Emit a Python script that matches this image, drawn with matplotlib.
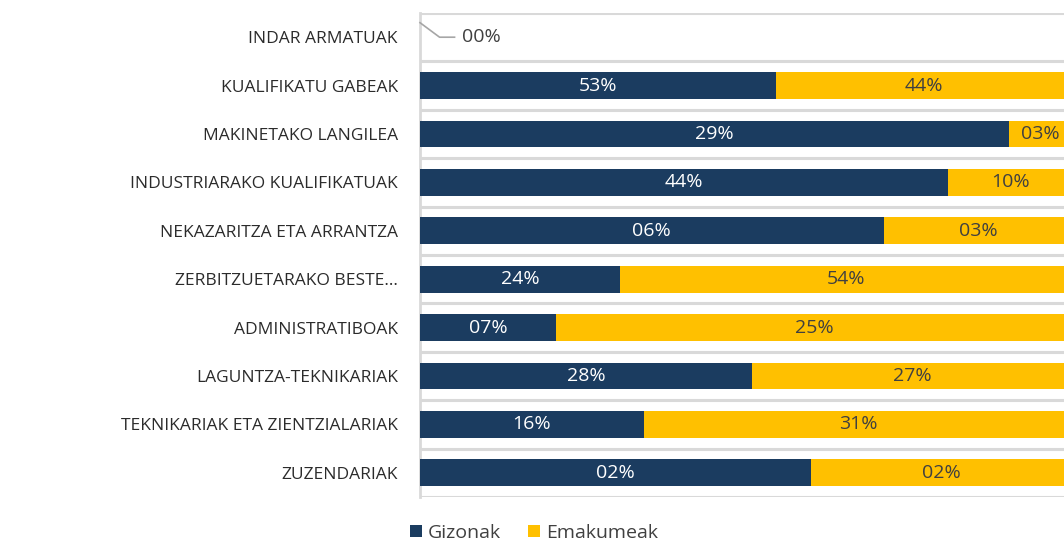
import numpy as np
import matplotlib
matplotlib.use("Agg")
import matplotlib.pyplot as plt

# Categories, top to bottom as in the chart
categories = [
    "INDAR ARMATUAK",
    "KUALIFIKATU GABEAK",
    "MAKINETAKO LANGILEA",
    "INDUSTRIARAKO KUALIFIKATUAK",
    "NEKAZARITZA ETA ARRANTZA",
    "ZERBITZUETARAKO BESTE\u2026",
    "ADMINISTRATIBOAK",
    "LAGUNTZA-TEKNIKARIAK",
    "TEKNIKARIAK ETA ZIENTZIALARIAK",
    "ZUZENDARIAK",
]
gizonak = [0.0, 53.2, 29.1, 44.0, 6.4, 24.0, 6.7, 28.0, 16.2, 2.4]
emakumeak = [0.0, 44.2, 3.1, 10.3, 2.6, 54.2, 25.4, 27.0, 31.0, 1.6]
series_names = ["Gizonak", "Emakumeak"]

navy = "#1B3C60"
yellow = "#FFC000"
grid_c = "#D9D9D9"
text_c = "#404040"

plt.rcParams["font.family"] = ["Open Sans", "DejaVu Sans"]

g = np.array(gizonak)
e = np.array(emakumeak)
tot = g + e
share_g = np.divide(g, tot, out=np.zeros_like(g), where=tot > 0)
share_e = np.divide(e, tot, out=np.zeros_like(e), where=tot > 0)

n = len(categories)
y = np.arange(n)[::-1]  # first category on top

fig = plt.figure(figsize=(10.64, 5.45), dpi=100)
ax = fig.add_axes([420 / 1064, 48 / 545, 652 / 1064, 484 / 545])

h = 0.55
bg = ax.barh(y, share_g, height=h, color=navy, label=series_names[0], zorder=3)
be = ax.barh(y, share_e, left=share_g, height=h, color=yellow, label=series_names[1], zorder=3)

ax.set_xlim(0, 1)
ax.set_ylim(-0.5, n - 0.5)
ax.set_yticks(y)
ax.set_yticklabels(categories, fontsize=12.5, color="#2B2B2B")
ax.set_xticks([])
ax.tick_params(axis="y", length=0, pad=16)

# grey separators between categories
ax.set_yticks(np.arange(-0.5, n, 1.0), minor=True)
ax.tick_params(axis="y", which="minor", length=0)
ax.grid(axis="y", which="minor", color=grid_c, linewidth=2.2, zorder=0)

for s in ["top", "right", "bottom"]:
    ax.spines[s].set_visible(False)
ax.spines["left"].set_color(grid_c)
ax.spines["left"].set_linewidth(2)

# data labels
for yi, sg, se, vg, ve in zip(y, share_g, share_e, g, e):
    if sg + se == 0:
        ax.plot([0.0, 0.03, 0.053], [yi + 0.3, yi, yi], color="#A6A6A6", lw=1.2,
                zorder=4, clip_on=False)
        ax.text(0.065, yi, f"{round(vg):02d}%", va="center", ha="left",
                fontsize=14, color=text_c)
        continue
    ax.text(sg / 2, yi, f"{round(vg):02d}%", va="center", ha="center",
            fontsize=14, color="white", zorder=5)
    ax.text(sg + se / 2, yi, f"{round(ve):02d}%", va="center", ha="center",
            fontsize=14, color=text_c, zorder=5)

fig.legend(handles=[bg, be], labels=series_names, loc="center",
           bbox_to_anchor=(534 / 1064, 1 - 533 / 545), ncol=2, frameon=False,
           fontsize=14, handlelength=0.6, handleheight=0.6, handletextpad=0.3,
           columnspacing=1.4, labelcolor=text_c)

fig.savefig("out.png", dpi=100)
